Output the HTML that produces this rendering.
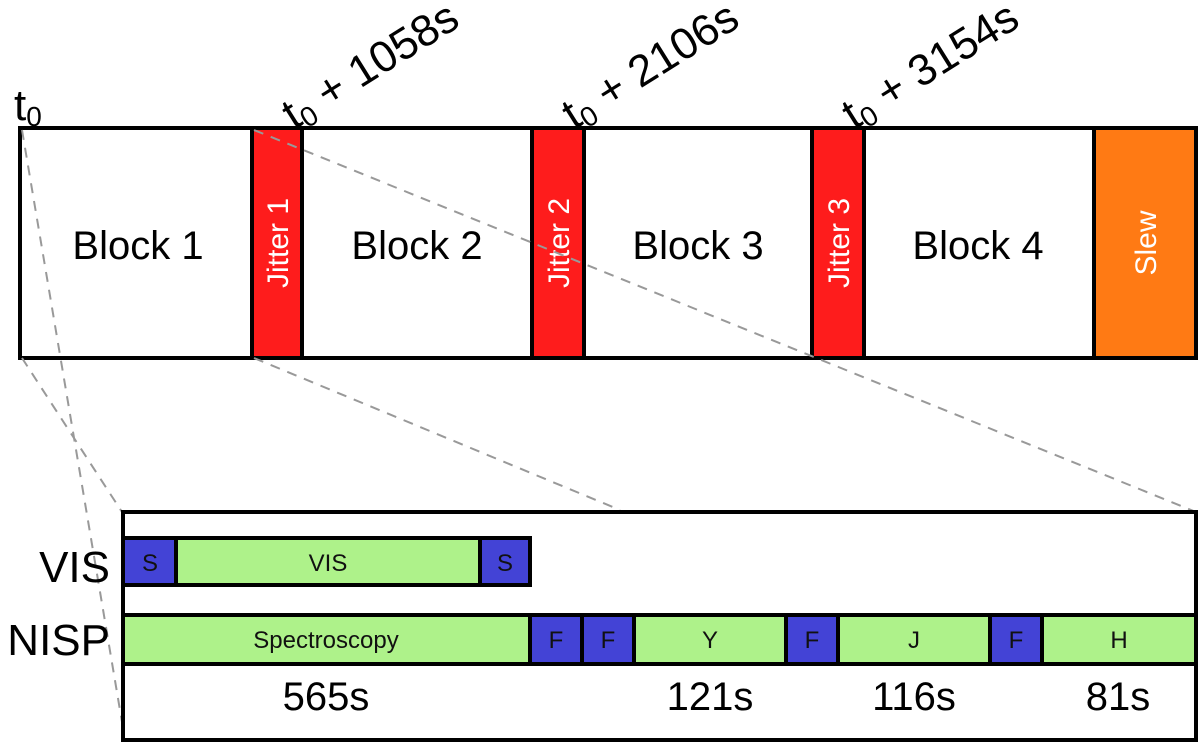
<!DOCTYPE html>
<html><head><meta charset="utf-8"><style>
html,body{margin:0;padding:0;background:#fff;}
svg{display:block;font-family:"Liberation Sans",sans-serif;}
</style></head><body>
<svg width="1200" height="744" viewBox="0 0 1200 744" xmlns="http://www.w3.org/2000/svg">
<g stroke="#000" stroke-width="4">
<rect x="20" y="128" width="1176" height="230" fill="#fff"/>
<rect x="252" y="128" width="50" height="230" fill="#fe1c1c"/>
<rect x="532" y="128" width="52" height="230" fill="#fe1c1c"/>
<rect x="812" y="128" width="52" height="230" fill="#fe1c1c"/>
<rect x="1094" y="128" width="102" height="230" fill="#ff7a14"/>
</g>
<g font-size="40" text-anchor="middle" fill="#000">
<text x="138" y="259">Block 1</text>
<text x="417" y="259">Block 2</text>
<text x="698" y="259">Block 3</text>
<text x="978" y="259">Block 4</text>
</g>
<g font-size="30" fill="#fff" text-anchor="middle">
<text transform="translate(288,243) rotate(-90)">Jitter 1</text>
<text transform="translate(569,243) rotate(-90)">Jitter 2</text>
<text transform="translate(849,243) rotate(-90)">Jitter 3</text>
<text transform="translate(1156,243) rotate(-90)">Slew</text>
</g>
<g font-size="44" fill="#000">
<text x="14" y="120">t<tspan font-size="28" dy="6">0</tspan></text>
<text transform="translate(294,130) rotate(-32)">t<tspan font-size="28" dy="6">0</tspan><tspan dy="-6"> + 1058s</tspan></text>
<text transform="translate(574,130) rotate(-32)">t<tspan font-size="28" dy="6">0</tspan><tspan dy="-6"> + 2106s</tspan></text>
<text transform="translate(854,130) rotate(-32)">t<tspan font-size="28" dy="6">0</tspan><tspan dy="-6"> + 3154s</tspan></text>
</g>
<g stroke="#999" stroke-width="2" stroke-dasharray="10,8" fill="none">
<line x1="22" y1="130" x2="122" y2="722"/>
<line x1="22" y1="358" x2="122" y2="512"/>
<line x1="254" y1="130" x2="1196" y2="512"/>
<line x1="254" y1="358" x2="620" y2="510"/>
</g>
<rect x="123" y="512" width="1073" height="228" fill="#fff" stroke="#000" stroke-width="4"/>
<g stroke="#000" stroke-width="4">
<rect x="123" y="538" width="53" height="47" fill="#4343d6"/>
<rect x="176" y="538" width="304" height="47" fill="#aef28a"/>
<rect x="480" y="538" width="50" height="47" fill="#4343d6"/>
<rect x="123" y="615" width="407" height="49" fill="#aef28a"/>
<rect x="530" y="615" width="52" height="49" fill="#4343d6"/>
<rect x="582" y="615" width="52" height="49" fill="#4343d6"/>
<rect x="634" y="615" width="152" height="49" fill="#aef28a"/>
<rect x="786" y="615" width="52" height="49" fill="#4343d6"/>
<rect x="838" y="615" width="152" height="49" fill="#aef28a"/>
<rect x="990" y="615" width="52" height="49" fill="#4343d6"/>
<rect x="1042" y="615" width="154" height="49" fill="#aef28a"/>
</g>
<g font-size="24" text-anchor="middle" fill="#111">
<text x="150" y="571">S</text><text x="328" y="571">VIS</text><text x="505" y="571">S</text>
<text x="326" y="648">Spectroscopy</text>
<text x="556" y="648">F</text><text x="608" y="648">F</text><text x="710" y="648">Y</text>
<text x="812" y="648">F</text><text x="914" y="648">J</text><text x="1016" y="648">F</text><text x="1119" y="648">H</text>
</g>
<g font-size="44" text-anchor="end" fill="#000">
<text x="110" y="582">VIS</text>
<text x="110" y="655">NISP</text>
</g>
<g font-size="40" text-anchor="middle" fill="#000">
<text x="326" y="710">565s</text>
<text x="710" y="710">121s</text>
<text x="914" y="710">116s</text>
<text x="1118" y="710">81s</text>
</g>
</svg>
</body></html>
